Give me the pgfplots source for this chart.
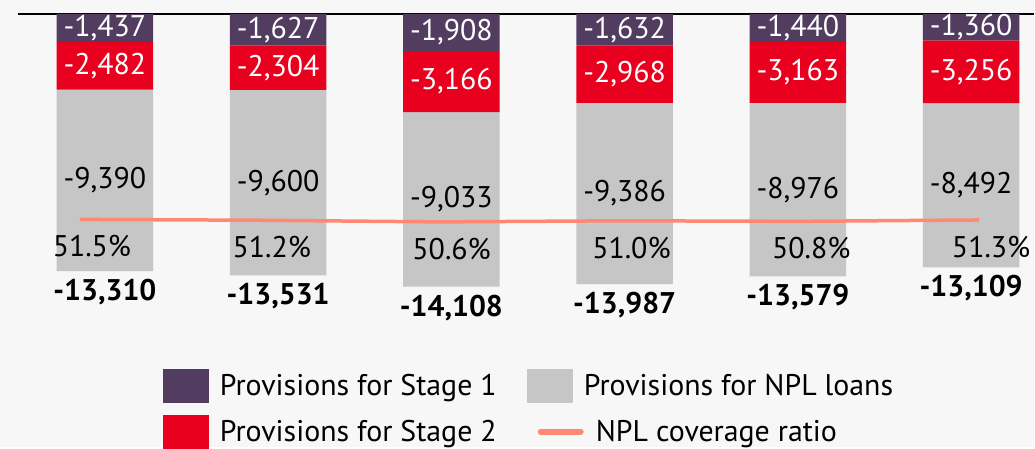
\documentclass[border=0pt]{standalone}
\usepackage{pgfplots}
\pgfplotsset{compat=1.18}
\usepackage{pgfplotstable}
\usepackage{fontspec}
\setmainfont{PT Sans}
\definecolor{cpurple}{HTML}{523D61}
\definecolor{cred}{HTML}{E8001E}
\definecolor{cgray}{HTML}{C6C6C6}
\definecolor{corange}{HTML}{FF8872}
\definecolor{cbg}{HTML}{F7F7F7}
\pgfkeys{/pgf/number format/.cd, 1000 sep={,}, assume math mode=true}

\pgfplotstableread{
x s1 s2 npl tot cov
0 -1437 -2482 -9390 -13310 51.5
1 -1627 -2304 -9600 -13531 51.2
2 -1908 -3166 -9033 -14108 50.6
3 -1632 -2968 -9386 -13987 51.0
4 -1440 -3163 -8976 -13579 50.8
5 -1360 -3256 -8492 -13109 51.3
}\data

\begin{document}
\begin{tikzpicture}[font=\fontsize{30}{36}\selectfont]
\fill[cbg] (0,0) rectangle (1035bp,447bp);
\begin{axis}[
  at={(0,0)}, anchor=south west,
  scale only axis, width=1035bp, height=447bp,
  xmin=-0.6055, xmax=5.3633,
  ymin=-22389, ymax=724,
  axis lines=none,
  ybar stacked, bar width=0.5565,
  clip=false,
  legend columns=2, transpose legend,
  legend cell align=left,
  legend style={at={(0.1575,0.1745)}, anchor=north west, draw=none, fill=none,
    inner sep=0pt, outer sep=0pt, column sep=0pt, row sep=12bp,
    font=\fontsize{30}{36}\selectfont,
    nodes={inner sep=0pt}},
]
\addplot[fill=cpurple, draw=none,
  point meta=\thisrow{s1},
  nodes near coords={\pgfmathprintnumber{\pgfplotspointmeta}},
  every node near coord/.append style={text=white, anchor=center},
  legend image code/.code={\fill[cpurple] (0bp,-17bp) rectangle (46bp,17bp); \path (57bp,0bp);}
  ] table[x=x,y=s1]{\data};
\addlegendentry{\makebox[307bp][l]{Provisions for Stage 1}}
\addplot[fill=cred, draw=none,
  point meta=\thisrow{s2},
  nodes near coords={\pgfmathprintnumber{\pgfplotspointmeta}},
  every node near coord/.append style={text=white, anchor=center},
  legend image code/.code={\fill[cred] (0bp,-17bp) rectangle (46bp,17bp); \path (57bp,0bp);}
  ] table[x=x,y=s2]{\data};
\addlegendentry{\makebox[307bp][l]{Provisions for Stage 2}}
\addplot[fill=cgray, draw=none,
  point meta=\thisrow{npl},
  nodes near coords={\pgfmathprintnumber{\pgfplotspointmeta}},
  every node near coord/.append style={text=black, anchor=center},
  legend image code/.code={\fill[cgray] (0bp,-17bp) rectangle (46bp,17bp); \path (57bp,0bp);}
  ] table[x=x,y=npl]{\data};
\addlegendentry{Provisions for NPL loans}
\addlegendimage{legend image code/.code={\draw[corange, line width=6bp, line cap=round] (14bp,0bp) -- (54bp,0bp); \path (0bp,0bp) (57bp,0bp);}}
\addlegendentry{\hspace{12bp}NPL coverage ratio}
\draw[black, line width=1.8bp] (axis cs:-0.5017,0) -- (axis cs:5.3633,0);
\end{axis}
\begin{axis}[
  at={(0,0)}, anchor=south west,
  scale only axis, width=1035bp, height=447bp,
  xmin=-0.6055, xmax=5.3633,
  ymin=-22389, ymax=724,
  axis lines=none, clip=false,
]
\addplot[draw=none, mark=none,
  point meta=\thisrow{tot},
  nodes near coords={\textbf{\pgfmathprintnumber{\pgfplotspointmeta}}},
  every node near coord/.append style={text=black, anchor=center, yshift=-21bp}
  ] table[x=x,y=tot]{\data};
\end{axis}
\begin{axis}[
  at={(0,0)}, anchor=south west,
  scale only axis, width=1035bp, height=447bp,
  xmin=-0.4444, xmax=5.3056,
  ymin=-30.3, ymax=130.5,
  axis lines=none, clip=false,
]
\addplot[corange, line width=3.5bp, mark=none,
  point meta=y,
  nodes near coords={\pgfmathprintnumber[fixed,fixed zerofill,precision=1]{\pgfplotspointmeta}\%},
  every node near coord/.append style={text=black, anchor=center, xshift=12bp, yshift=-27bp}
  ] table[x=x,y=cov]{\data};
\end{axis}
\end{tikzpicture}
\end{document}
